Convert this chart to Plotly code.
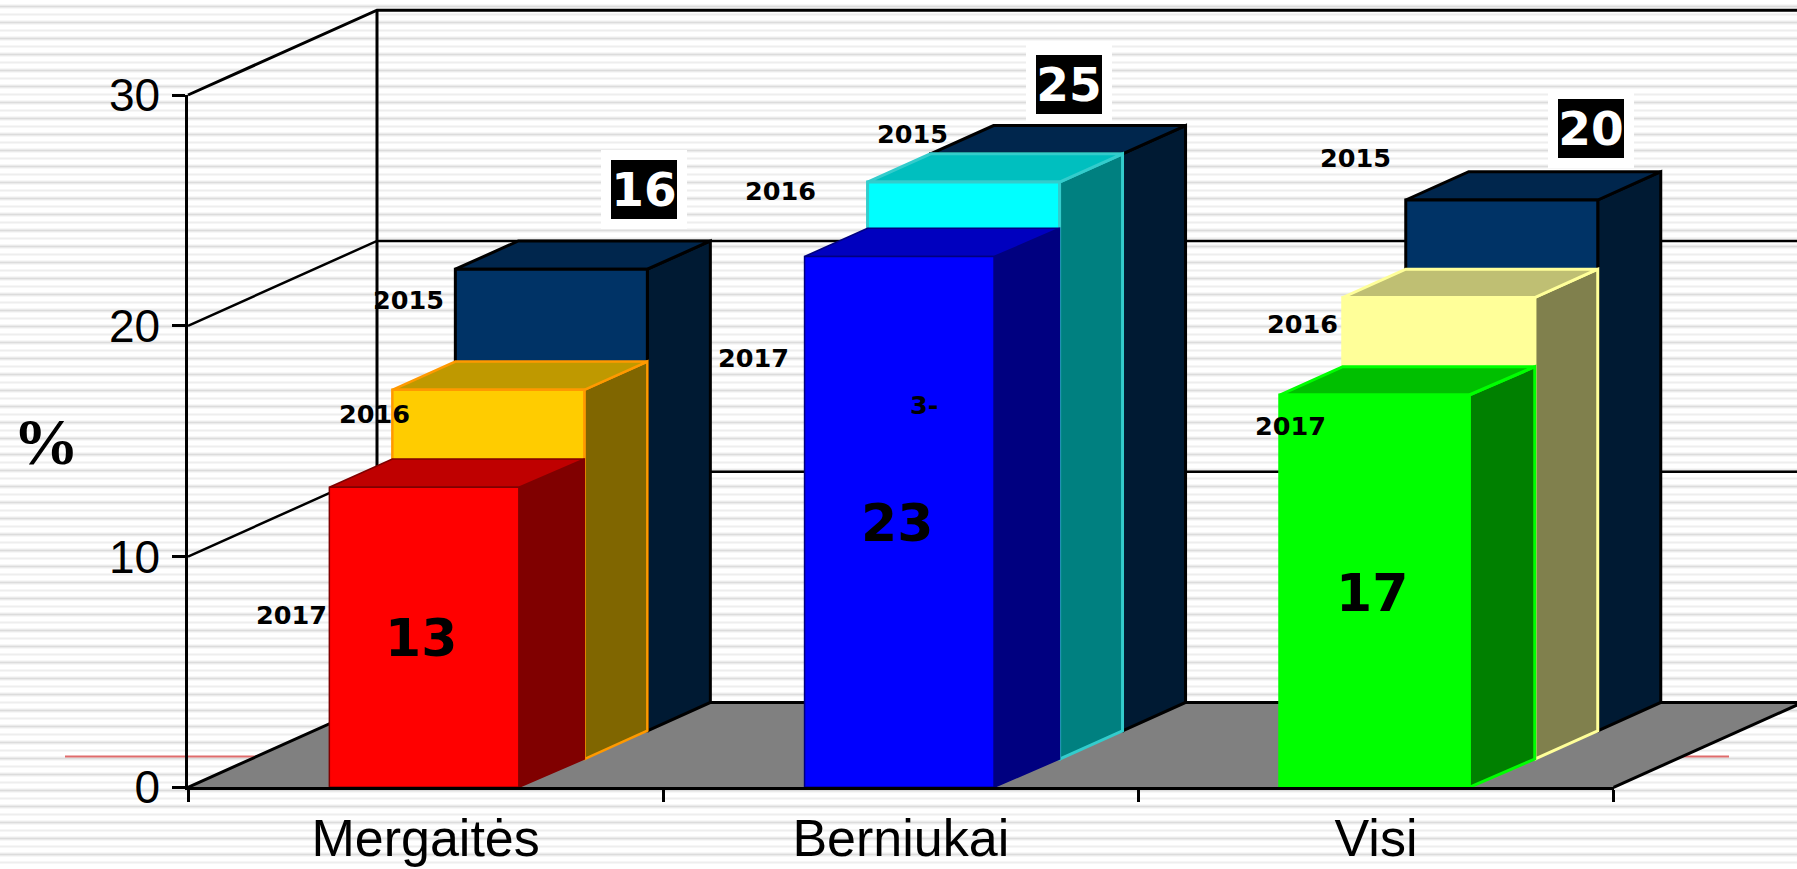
import plotly.graph_objects as go

# ---- data ----
categories = ["Mergaitės", "Berniukai", "Visi"]
years = ["2017", "2016", "2015"]
values_2017 = [13, 23, 17]
values_2016 = [16, 25, 20]
values_2015 = [20, 25, 23]
y_ticks = [0, 10, 20, 30]
boxed_labels = ["16", "25", "20"]
front_labels = ["13", "23", "17"]

# ---- geometry ----
W, H = 1797, 869
L, R, T, B = 188.0, 1613.6, 95.0, 787.3
UX = (R - L) / 3
UY = (B - T) / 30


def X(px):
    return (px - L) / UX


def Y(py):
    return (B - py) / UY


DX = 63.0 / UX
DY = 28.27 / UY
BAR_W = 192.0 / UX
FRONT_W = 189.5 / UX
BAR_OFF = (1 - FRONT_W) / 2 - 1.5 / UX

# colours: category -> series -> (front, top, side, border, border width)
NAVY = ("#003366", "#00264D", "#001A33", "#000000", 3)
styles = [
    [("#FF0000", "#BF0000", "#800000", "#800000", 1.5),
     ("#FFCC00", "#BF9900", "#806600", "#FF9900", 2.5), NAVY],
    [("#0000FF", "#0000BF", "#000080", "#000080", 1.5),
     ("#00FFFF", "#00BFBF", "#008080", "#33CCCC", 3), NAVY],
    [("#00FF00", "#00BF00", "#008000", "#00FF00", 3),
     ("#FFFF99", "#BFBF73", "#80804D", "#FFFF99", 3), NAVY],
]

fig = go.Figure()


def poly(xs, ys, fill, border=None, width=0):
    fig.add_trace(go.Scatter(
        x=list(xs) + [xs[0]], y=list(ys) + [ys[0]], mode="lines", fill="toself",
        fillcolor=fill, line=dict(color=border or fill, width=width if border else 0),
        hoverinfo="skip", showlegend=False))


def line(xs, ys, color="#000000", width=2.0):
    fig.add_trace(go.Scatter(
        x=xs, y=ys, mode="lines", line=dict(color=color, width=width),
        hoverinfo="skip", showlegend=False))


# striped backdrop
for start, col, wd in ((6.5, "#F0F0F0", 4), (6.5, "#DCDCDC", 1.5), (14.5, "#EEEEEE", 2)):
    xs, ys = [], []
    py = start
    while py < H:
        xs += [X(0), X(W), None]
        ys += [Y(py), Y(py), None]
        py += 16
    line(xs, ys, col, wd)

# thin red rule behind the chart
line([X(65), X(1729)], [Y(756.4), Y(756.4)], "#E06C6C", 2)

# floor
D3X, D3Y = 3 * DX, 3 * DY
poly([0, 3, 3 + D3X, D3X], [0, 0, D3Y, D3Y], "#808080")
line([0, D3X, X(W)], [0, D3Y, D3Y], "#000000", 3)
line([3, 3 + D3X], [0, D3Y], "#000000", 3)

# walls
line([D3X, D3X], [D3Y, 30 + D3Y], "#000000", 3)
for v in y_ticks[1:]:
    w = 3 if v == 30 else 2.5
    line([0, D3X, X(W)], [v, v + D3Y, v + D3Y], "#000000", w)

# bars, back row first
for s, vals in ((2, values_2015), (1, values_2016), (0, values_2017)):
    for c, v in enumerate(vals):
        front, top, side, border, bw = styles[c][s]
        width = BAR_W if s else FRONT_W
        x0 = c + BAR_OFF + s * DX
        x1 = x0 + width
        xb0 = x0 + DX
        xb1 = xb0 + BAR_W
        y0 = s * DY
        y1 = y0 + v
        poly([x1, xb1, xb1, x1], [y0, y0 + DY, y1 + DY, y1], side, border, bw)
        poly([x0, x1, xb1, xb0], [y1, y1, y1 + DY, y1 + DY], top, border, bw)
        poly([x0, x1, x1, x0], [y0, y0, y1, y1], front, border, bw)

# empty trace that brings the value/category axes to life
fig.add_trace(go.Scatter(x=[None], y=[None], xaxis="x2", yaxis="y2", mode="lines",
                         hoverinfo="skip", showlegend=False))

annotations = []


def text(px, py, s, size, color="#000000", family="DejaVu Sans", **kw):
    annotations.append(dict(
        x=X(px), y=Y(py), xref="x", yref="y", text=s, showarrow=False,
        xanchor="center", yanchor="middle",
        font=dict(size=size, color=color, family=family), **kw))


# year labels
year_pos = [
    [(291, 615.4), (374.7, 413.7), (408, 300)],
    [(753, 357.5), (780.4, 191.4), (912, 134)],
    [(1290, 426.3), (1302, 324.3), (1355.7, 158)],
]
for row in year_pos:
    for (px, py), yr in zip(row, years):
        text(px, py, f"<b>{yr}</b>", 25.5)
text(923.6, 404.5, "<b>3-</b>", 25.5)

# labels inside the front bars
for (px, py), s in zip([(420.6, 638.3), (897, 522.6), (1372, 592.5)], front_labels):
    text(px, py, f"<b>{s}</b>", 52)

# boxed labels
for (px, py), s in zip([(644, 189), (1069, 84.5), (1591, 128.5)], boxed_labels):
    text(px, py, f"<b>{s}</b>", 47, "#FFFFFF", bgcolor="#000000", bordercolor="#FFFFFF",
         borderwidth=10, borderpad=0, width=66, height=59)

# axis unit
text(46, 441, "<b>%</b>", 66, family="Liberation Serif")

fig.update_layout(
    width=W, height=H, autosize=False,
    margin=dict(l=0, r=0, t=0, b=0, pad=0),
    paper_bgcolor="#FFFFFF", plot_bgcolor="rgba(0,0,0,0)",
    showlegend=False, annotations=annotations,
    font=dict(family="Liberation Sans", color="#000000"),
    xaxis=dict(range=[X(0), X(W)], visible=False, automargin=False, domain=[0, 1]),
    yaxis=dict(range=[Y(H), Y(0)], visible=False, automargin=False, domain=[0, 1]),
    xaxis2=dict(
        domain=[L / W, R / W], anchor="y2", automargin=False,
        range=[0, 3], tickmode="array", tickvals=[0.5, 1.5, 2.5], ticktext=categories,
        ticks="", showgrid=False, zeroline=False, showline=True, linecolor="#000000",
        linewidth=3, tickfont=dict(size=52, family="Liberation Sans"),
        ticklabelstandoff=3,
        minor=dict(tickmode="array", tickvals=[0, 1, 2, 3], ticks="outside",
                   ticklen=12, tickwidth=2.5, tickcolor="#000000", showgrid=False),
    ),
    yaxis2=dict(
        domain=[1 - B / H, 1 - T / H], anchor="x2", automargin=False,
        range=[0, 30], tickmode="array", tickvals=y_ticks, ticks="outside", ticklen=13,
        tickwidth=2.5, tickcolor="#000000", showgrid=False, zeroline=False, showline=True,
        linecolor="#000000", linewidth=2.5, tickfont=dict(size=46, family="Liberation Sans"),
        ticklabelstandoff=3,
    ),
)

fig.write_html(
    "out.html", config={"displayModeBar": False},
    post_script="document.body.style.margin='0';document.body.style.overflow='hidden';",
)
